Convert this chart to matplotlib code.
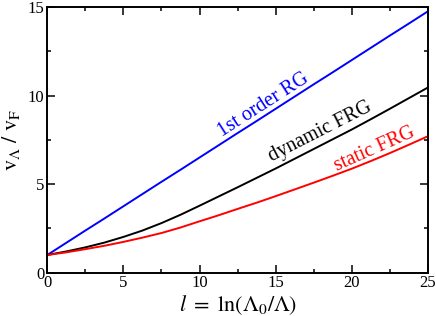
import numpy as np
import matplotlib
matplotlib.use("Agg")
import matplotlib.pyplot as plt
from matplotlib.ticker import MultipleLocator

plt.rcParams['font.family'] = ['Liberation Serif', 'DejaVu Serif']
plt.rcParams['mathtext.fontset'] = 'stix'

# values
l_vals = [0, 1.25, 2.5, 3.75, 5, 6.25, 7.5, 8.75, 10, 11.25, 12.5,
          13.75, 15, 16.25, 17.5, 18.75, 20, 21.25, 22.5, 23.75, 25]
v_first = [1.0, 1.69, 2.38, 3.06, 3.75, 4.44, 5.13, 5.81, 6.5, 7.19, 7.88,
           8.56, 9.25, 9.94, 10.63, 11.31, 12.0, 12.69, 13.38, 14.06, 14.75]
v_dynamic = [1.0, 1.2, 1.43, 1.7, 2.02, 2.38, 2.8, 3.27, 3.78, 4.3, 4.82,
             5.35, 5.88, 6.43, 6.98, 7.53, 8.08, 8.66, 9.25, 9.85, 10.45]
v_static = [1.0, 1.15, 1.33, 1.52, 1.74, 1.98, 2.24, 2.55, 2.9, 3.24, 3.6,
            3.95, 4.32, 4.7, 5.08, 5.47, 5.87, 6.3, 6.75, 7.22, 7.7]

fig = plt.figure(figsize=(4.36, 3.16), dpi=100)
ax = fig.add_axes([0.1085, 0.137, 0.8727, 0.841])

ax.plot(l_vals, v_first, color='blue', lw=1.4)
ax.plot(l_vals, v_dynamic, color='black', lw=1.4)
ax.plot(l_vals, v_static, color='red', lw=1.4)

# curve labels
ax.text(14.2, 9.45, '1st order RG', color='blue', fontsize=14.5,
        rotation=32.6, ha='center', va='center')
ax.text(17.9, 7.95, 'dynamic FRG', color='black', fontsize=14.5,
        rotation=27, ha='center', va='center')
ax.text(21.5, 6.95, 'static FRG', color='red', fontsize=14.5,
        rotation=24, ha='center', va='center')

ax.set_xlim(0, 25)
ax.set_ylim(0, 15)
ax.xaxis.set_major_locator(MultipleLocator(5))
ax.xaxis.set_minor_locator(MultipleLocator(2.5))
ax.yaxis.set_major_locator(MultipleLocator(5))
ax.yaxis.set_minor_locator(MultipleLocator(2.5))
ax.tick_params(which='both', direction='in', top=True, right=True,
               labelsize=12, width=1.1, pad=2)
ax.tick_params(which='major', length=5.8)
ax.tick_params(which='minor', length=2.9)
for s in ax.spines.values():
    s.set_linewidth(1.4)

ax.set_xlabel(r'$l\ =\ \ln(\Lambda_0/\Lambda)$', fontsize=16, labelpad=1)
ax.set_ylabel(r'$\mathrm{v}_\Lambda\ /\ \mathrm{v}_\mathrm{F}$', fontsize=16, labelpad=4)

fig.savefig('out.png', dpi=100)
